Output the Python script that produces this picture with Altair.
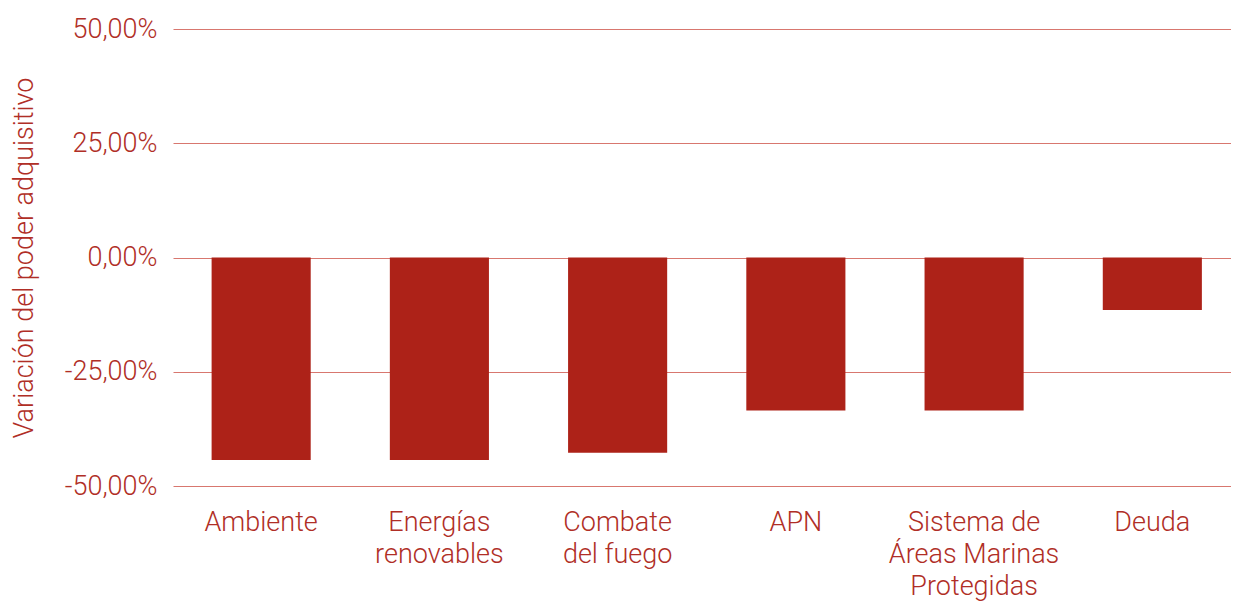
import altair as alt
import pandas as pd

categories = ["Ambiente", "Energías renovables", "Combate del fuego", "APN",
              "Sistema de Áreas Marinas Protegidas", "Deuda"]
label_lines = ["Ambiente", "Energías\nrenovables", "Combate\ndel fuego", "APN",
               "Sistema de\nÁreas Marinas\nProtegidas", "Deuda"]
values = [-44.3, -44.3, -42.7, -33.5, -33.5, -11.5]
y_ticks = [-50, -25, 0, 25, 50]

df = pd.DataFrame({"categoria": label_lines, "variacion": values})

TEXT = "#B02E26"
BAR = "#AD2218"
GRID = "#D8776F"
FONT = "Roboto"
FS = 27

chart = alt.Chart(df).mark_bar(color=BAR).encode(
    x=alt.X("categoria:N", sort=label_lines,
            scale=alt.Scale(paddingInner=0.444, paddingOuter=0.19, align=0.57),
            axis=alt.Axis(title=None, labelAngle=0, ticks=False, domain=False, grid=False,
                          labelPadding=23, labelFontSize=FS, labelColor=TEXT,
                          labelFont=FONT, labelFontWeight=300, labelLineHeight=32,
                          labelExpr="split(datum.label, '\\n')")),
    y=alt.Y("variacion:Q",
            scale=alt.Scale(domain=[-50, 50], nice=False),
            axis=alt.Axis(title="Variación del poder adquisitivo", values=y_ticks,
                          ticks=False, domain=False, labelPadding=16,
                          labelFontSize=FS, labelColor=TEXT, labelFont=FONT,
                          labelFontWeight=300,
                          labelExpr="(datum.value < 0 ? '-' : '') + replace(format(abs(datum.value), '.2f'), '.', ',') + '%'",
                          titleFontSize=FS, titleColor=TEXT, titleFont=FONT,
                          titleFontWeight=300, titlePadding=26,
                          grid=True, gridColor=GRID, gridWidth=1)),
).properties(
    width=1058, height=457,
    background="white",
    autosize=alt.AutoSizeParams(type="none"),
    padding={"left": 165, "top": 21, "right": 0, "bottom": 116},
).configure_view(strokeWidth=0, stroke=None)

chart.save("out.html", embed_options={"renderer": "svg", "actions": False})
